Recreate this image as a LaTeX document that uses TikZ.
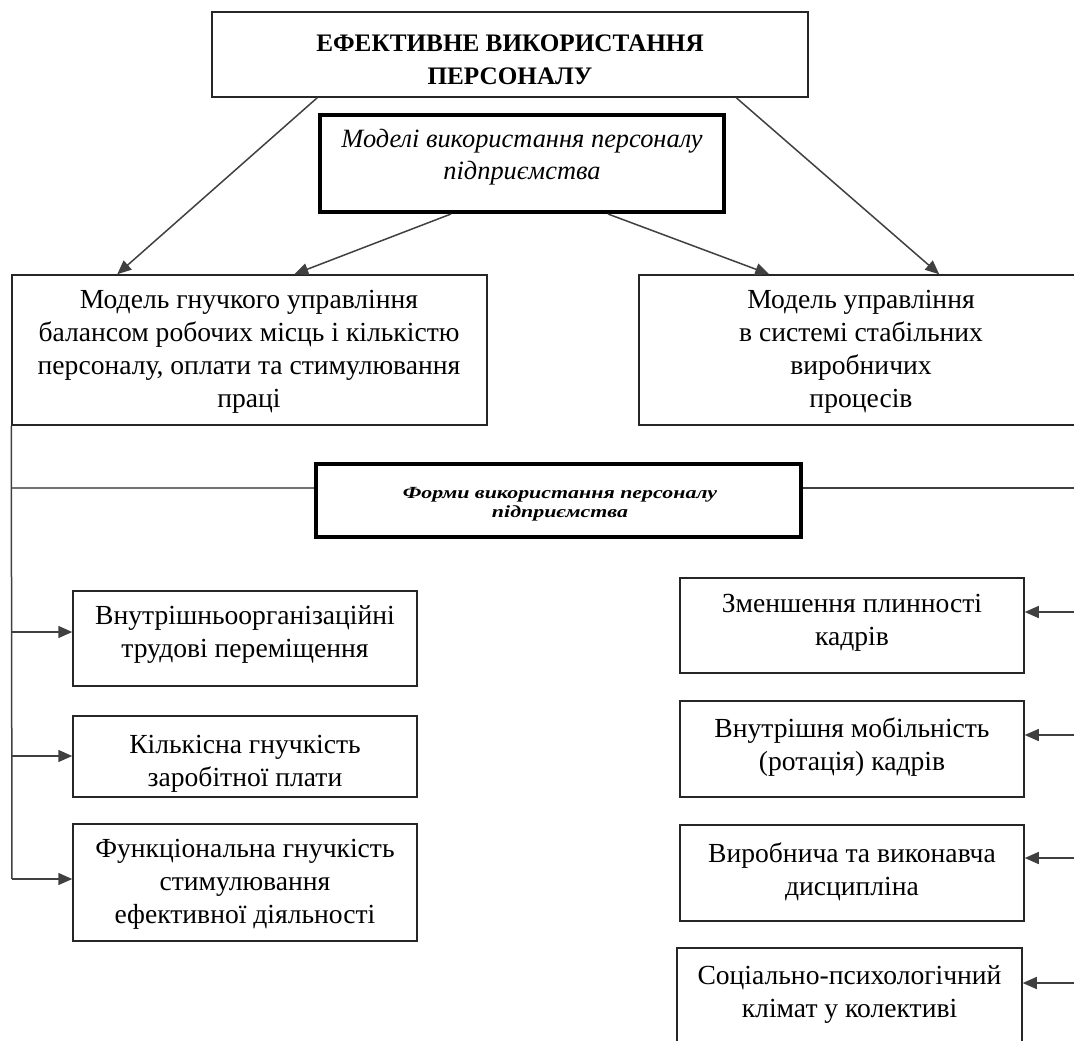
\documentclass[tikz,border=0pt]{standalone}
\usepackage{fontspec}
\setmainfont{Liberation Serif}
\usetikzlibrary{arrows.meta}
\begin{document}
\begin{tikzpicture}[x=1pt,y=-1pt,
  box/.style={draw=black!85, line width=1.5pt, rectangle, inner sep=0pt},
  heavybox/.style={draw=black, line width=4pt, rectangle, inner sep=0pt},
  txt/.style={align=center, inner sep=0pt, font=\fontsize{27.6}{33}\selectfont},
  conn/.style={draw=black!75, line width=1.5pt},
  arr/.style={conn, -{Triangle[length=14pt,width=12pt]}}]
\useasboundingbox (0,0) rectangle (1074,1041);
\clip (0,0) rectangle (1074,1041);

% boxes
\node[box, minimum width=596pt, minimum height=85pt] (top) at (510,54.5) {};
\node[heavybox, minimum width=404pt, minimum height=97pt] (mod) at (522,163.5) {};
\node[box, minimum width=475pt, minimum height=150pt] (lm) at (249.5,350) {};
\node[box, minimum width=471pt, minimum height=150pt] (rm) at (874.5,350) {};
\node[heavybox, minimum width=485pt, minimum height=73pt] (forms) at (558.5,500.5) {};

\node[box, minimum width=344pt, minimum height=95pt] (l1) at (245,638.5) {};
\node[box, minimum width=344pt, minimum height=81pt] (l2) at (245,756.5) {};
\node[box, minimum width=344pt, minimum height=117pt] (l3) at (245,882.5) {};

\node[box, minimum width=344pt, minimum height=95pt] (r1) at (852,625.5) {};
\node[box, minimum width=344pt, minimum height=96pt] (r2) at (852,749) {};
\node[box, minimum width=344pt, minimum height=96pt] (r3) at (852,873) {};
\node[box, minimum width=345pt, minimum height=112pt] (r4) at (849.5,1004) {};

% texts
\node[txt, font=\fontsize{25.2}{33}\selectfont\bfseries] (topt) at (510,60) {ЕФЕКТИВНЕ ВИКОРИСТАННЯ\\ПЕРСОНАЛУ};
\node[txt, font=\fontsize{26.4}{32}\selectfont\itshape] (modt) at (522,157) {Моделі використання персоналу\\підприємства};
\node[txt] (lmt) at (249,352) {Модель гнучкого управління\\балансом робочих місць і кількістю\\персоналу, оплати та стимулювання\\праці};
\node[txt] (rmt) at (861,352) {Модель управління\\в системі стабільних\\виробничих\\процесів};
\node[txt, font=\fontsize{17}{19}\selectfont\bfseries\itshape] (formst) at (560,504) {\scalebox{1.29}[1]{Форми використання персоналу}\\\scalebox{1.29}[1]{підприємства}};

\node[txt] (l1t) at (245,634.5) {Внутрішньоорганізаційні\\трудові переміщення};
\node[txt] (l2t) at (245,763.5) {Кількісна гнучкість\\заробітної плати};
\node[txt] (l3t) at (245,884) {Функціональна гнучкість\\стимулювання\\ефективної діяльності};

\node[txt] (r1t) at (852,623) {Зменшення плинності\\кадрів};
\node[txt] (r2t) at (852,747.5) {Внутрішня мобільність\\(ротація) кадрів};
\node[txt] (r3t) at (852,871.5) {Виробнича та виконавча\\дисципліна};
\node[txt] (r4t) at (849.5,994.5) {Соціально-психологічний\\клімат у колективі};

% upper arrows
\draw[arr] ([xshift=106pt]top.south west) -- ([xshift=106pt]lm.north west);
\draw[arr] ([xshift=133pt]mod.south west) -- ([xshift=283pt]lm.north west);
\draw[arr] ([xshift=290pt]mod.south west) -- ([xshift=131pt]rm.north west);
\draw[arr] ([xshift=525pt]top.south west) -- ([xshift=301pt]rm.north west);

% left trunk
\coordinate (t1) at (12,632);
\coordinate (t2) at (12,756);
\coordinate (t3) at (12,879);
\coordinate (tf) at (12,488);
\draw[conn] (lm.south west) -- (t3);
\draw[draw=black!55, line width=1.5pt] (tf) -- (tf -| forms.west);
\draw[arr] (t1) -- (t1 -| l1.west);
\draw[arr] (t2) -- (t2 -| l2.west);
\draw[arr] (t3) -- (t3 -| l3.west);

% right side
\coordinate (ef) at (1074,488);
\coordinate (e1) at (1074,612);
\coordinate (e2) at (1074,735);
\coordinate (e3) at (1074,858);
\coordinate (e4) at (1074,983);
\draw[conn] (ef -| forms.east) -- (ef);
\draw[arr] (e1) -- (e1 -| r1.east);
\draw[arr] (e2) -- (e2 -| r2.east);
\draw[arr] (e3) -- (e3 -| r3.east);
\draw[arr] (e4) -- (e4 -| r4.east);
\end{tikzpicture}
\end{document}
